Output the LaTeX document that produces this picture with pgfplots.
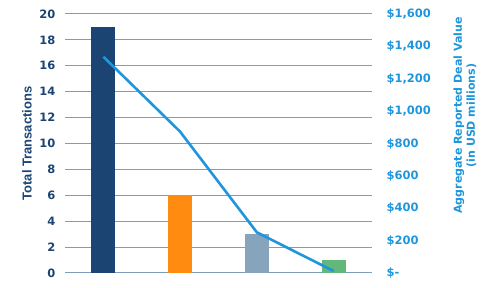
\documentclass[border=0pt]{standalone}
\usepackage{pgfplots}
\pgfplotsset{compat=1.18}
\usepackage{fontspec}
\setmainfont{DejaVu Sans}
\newfontfamily\arialb{Liberation Sans}
\definecolor{navy}{HTML}{1B4473}
\definecolor{orng}{HTML}{FF8C11}
\definecolor{gblue}{HTML}{87A4BD}
\definecolor{grn}{HTML}{62B77B}
\definecolor{linec}{HTML}{1F96DB}
\definecolor{gridc}{HTML}{7F9CB8}
\begin{document}
\begin{tikzpicture}
\useasboundingbox (-65pt,-15pt) rectangle (428pt,273pt);
\begin{axis}[
  scale only axis, width=307pt, height=259pt,
  xmin=-0.5, xmax=3.5, ymin=0, ymax=20,
  xtick=\empty, ytick={0,2,...,20},
  axis line style={draw=none},
  ymajorgrids, grid style={color=gridc, line width=1pt},
  major tick length=0pt,
  /pgf/number format/assume math mode=true,
  yticklabel style={font=\bfseries\fontsize{11.5}{12}\selectfont, color=navy, xshift=-6pt},
  ylabel={Total Transactions},
  ylabel style={at={([xshift=-38pt]axis description cs:0,0.5)}, anchor=center, font=\arialb\bfseries\fontsize{13}{14}\selectfont, color=navy},
  clip=false,
]
\addplot[ybar, bar width=24pt, fill=navy, draw=none] coordinates {(0,19)};
\addplot[ybar, bar width=24pt, fill=orng, draw=none] coordinates {(1,6)};
\addplot[ybar, bar width=24pt, fill=gblue, draw=none] coordinates {(2,3)};
\addplot[ybar, bar width=24pt, fill=grn, draw=none] coordinates {(3,1)};
\end{axis}
\begin{axis}[
  scale only axis, width=307pt, height=259pt,
  xmin=-0.5, xmax=3.5, ymin=0, ymax=1600,
  axis x line=none, axis y line*=right,
  axis line style={draw=none},
  ytick={0,200,...,1600},
  yticklabels={\$-,\$200,\$400,\$600,\$800,\$1{,}000,\$1{,}200,\$1{,}400,\$1{,}600},
  major tick length=0pt,
  yticklabel style={font=\bfseries\fontsize{11.5}{12}\selectfont, color=linec, anchor=west, xshift=11pt},
  ylabel={Aggregate Reported Deal Value\\(in USD millions)},
  ylabel style={at={([xshift=93pt,yshift=28pt]axis description cs:1,0.5)}, anchor=center, align=center, font=\bfseries\fontsize{11}{13}\selectfont, color=linec},
  clip=false,
]
\addplot[line width=2.6pt, color=linec] coordinates {(0,1336) (1,873) (2,251) (3,12)};
\end{axis}
\end{tikzpicture}
\end{document}
